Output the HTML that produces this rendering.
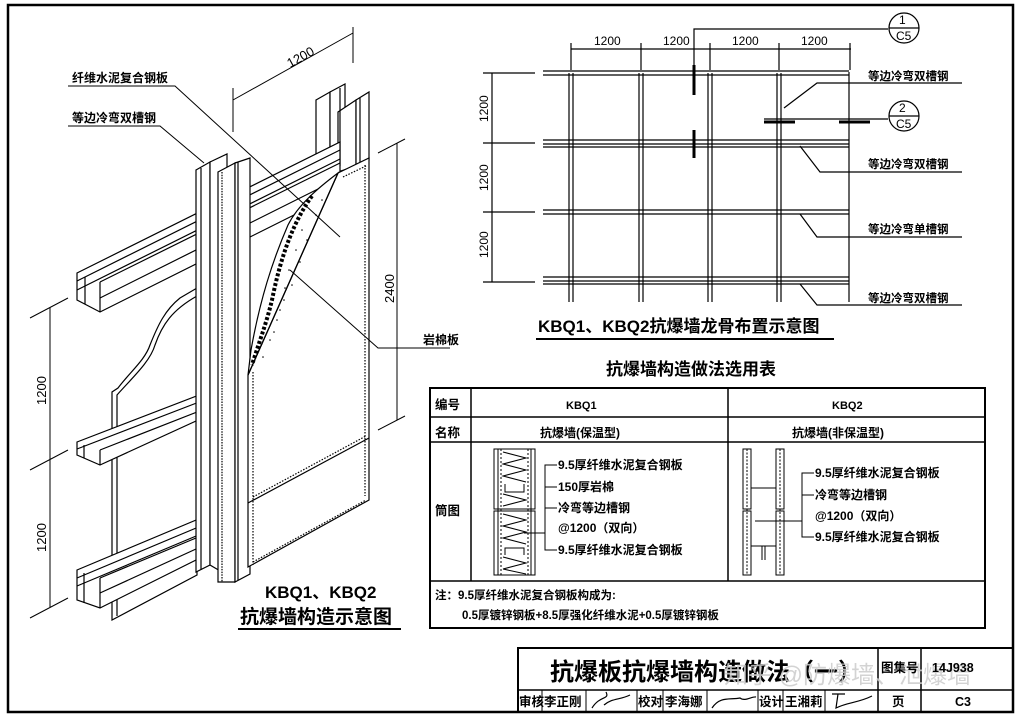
<!DOCTYPE html>
<html><head><meta charset="utf-8">
<style>
html,body{margin:0;padding:0;background:#fff;}
svg{display:block;}
text{font-family:"Liberation Sans","Noto Sans CJK SC",sans-serif;fill:#000;}
.b{font-weight:bold;}
</style></head>
<body>
<svg width="1020" height="719" viewBox="0 0 1020 719" xmlns="http://www.w3.org/2000/svg">
<rect width="1020" height="719" fill="#fff"/>
<rect x="8" y="5" width="1005" height="707" fill="none" stroke="#000" stroke-width="2.5"/>

<!-- ============ LEFT ISOMETRIC ============ -->
<g fill="#fff" stroke="#000" stroke-width="1.2">
  <!-- back upper post -->
  <polygon points="316,100 330,92 330,170 316,176"/>
  <polygon points="330,92 345,84 345,166 330,170"/>
  <polygon points="338,112 356,100 356,166 338,172"/>
  <polygon points="356,100 369,92 369,160 356,166"/>
  <line x1="340" y1="88" x2="340" y2="166"/>
  <line x1="360" y1="98" x2="360" y2="164"/>
  <!-- left back panel with wavy edge -->
  <path d="M112,620 L112,392 L118,388 C130,372 145,360 150,345 C158,325 165,310 180,298 L197,288 L197,575 Z"/>
  <path d="M117,616 L117,395 C132,378 150,362 155,345 C162,325 172,310 197,296" fill="none"/>
  <!-- upper double beam -->
  <polygon points="77,273 340,142 340,192 100,312 77,300"/>
  <line x1="77" y1="281" x2="340" y2="150"/>
  <line x1="77" y1="290" x2="340" y2="159"/>
  <line x1="100" y1="282" x2="340" y2="163"/>
  <line x1="100" y1="298" x2="340" y2="178"/>
  <line x1="100" y1="282" x2="100" y2="312"/>
  <line x1="85" y1="277" x2="85" y2="304"/>
  <!-- middle single channel -->
  <polygon points="77,442 220,387 220,410 100,465 77,455"/>
  <line x1="77" y1="449" x2="220" y2="394"/>
  <line x1="100" y1="450" x2="220" y2="403"/>
  <line x1="100" y1="450" x2="100" y2="465"/>
  <line x1="84" y1="445" x2="84" y2="458"/>
  <!-- lower double beam -->
  <polygon points="77,570 220,510 220,548 100,608 77,600"/>
  <line x1="77" y1="578" x2="220" y2="518"/>
  <line x1="77" y1="586" x2="220" y2="526"/>
  <line x1="100" y1="578" x2="220" y2="528"/>
  <line x1="100" y1="593" x2="220" y2="538"/>
  <line x1="100" y1="578" x2="100" y2="608"/>
  <line x1="84" y1="573" x2="84" y2="603"/>
  <!-- vertical post back -->
  <polygon points="196,170 210,162 210,565 196,572"/>
  <polygon points="210,162 227,154 227,575 210,565"/>
  <line x1="201" y1="168" x2="201" y2="570"/>
  <!-- front post -->
  <polygon points="218,172 235,163 235,582 218,582"/>
  <polygon points="235,163 250,158 250,574 235,582"/>
  <line x1="222" y1="172" x2="222" y2="582" stroke-dasharray="1.5,1.2"/>
  <line x1="238" y1="162" x2="238" y2="580"/>
  <!-- board -->
  <polygon points="338,173 369,158 369,500 248,567 248,375"/>
  <line x1="253" y1="372" x2="253" y2="565" stroke-dasharray="1.5,1.5"/>
  <line x1="248" y1="503" x2="369" y2="438"/>
  <line x1="253" y1="497" x2="366" y2="436" stroke-dasharray="1.5,1.5"/>
  <line x1="253" y1="562" x2="366" y2="500" stroke-dasharray="1.5,1.5"/>
  <line x1="365" y1="165" x2="365" y2="496" stroke-dasharray="1.5,1.5"/>
  <line x1="343" y1="177" x2="366" y2="166" stroke-dasharray="1.5,1.5"/>
  <!-- cut-away insulation -->
  <path d="M338,173 C318,188 298,205 288,225 C272,262 260,300 251,350 L248,375 Z" fill="#fff"/>
  <path d="M338,173 L248,375" fill="none"/>
  <path d="M312,196 C296,218 282,250 272,300 C266,325 258,345 252,365" fill="none" stroke-dasharray="3,2" stroke-width="4"/>
</g>
<g fill="#000">
  <circle cx="322" cy="200" r=".8"/><circle cx="316" cy="215" r=".8"/><circle cx="307" cy="240" r=".8"/>
  <circle cx="300" cy="262" r=".8"/><circle cx="292" cy="285" r=".8"/><circle cx="284" cy="300" r=".8"/>
  <circle cx="277" cy="320" r=".8"/><circle cx="270" cy="340" r=".8"/><circle cx="263" cy="357" r=".8"/>
  <circle cx="302" cy="230" r=".8"/><circle cx="289" cy="270" r=".8"/><circle cx="280" cy="310" r=".8"/>
  <circle cx="296" cy="250" r=".8"/><circle cx="285" cy="288" r=".8"/><circle cx="274" cy="332" r=".8"/>
</g>
<g stroke="#000" stroke-width="1" fill="none">
  <polyline points="68,86 175,86 340,237"/>
  <polyline points="68,126 160,126 204,163"/>
  <polyline points="290,270 378,348 450,348"/>
  <line x1="233" y1="100" x2="353" y2="33"/>
  <line x1="233" y1="88" x2="233" y2="132"/>
  <line x1="353" y1="27" x2="353" y2="63"/>
  <line x1="397" y1="143" x2="397" y2="420"/>
  <line x1="378" y1="153" x2="405" y2="139"/>
  <line x1="378" y1="430" x2="405" y2="416"/>
  <line x1="50" y1="307" x2="50" y2="607"/>
  <line x1="30" y1="318" x2="68" y2="298"/>
  <line x1="30" y1="470" x2="68" y2="450"/>
  <line x1="30" y1="618" x2="68" y2="598"/>
</g>
<text x="72" y="82" font-size="12" class="b">纤维水泥复合钢板</text>
<text x="72" y="122" font-size="12" class="b">等边冷弯双槽钢</text>
<text x="423" y="344" font-size="12" class="b">岩棉板</text>
<text transform="translate(290,68) rotate(-29)" font-size="13">1200</text>
<text transform="translate(394,303) rotate(-90)" font-size="13">2400</text>
<text transform="translate(46,405) rotate(-90)" font-size="13">1200</text>
<text transform="translate(46,552) rotate(-90)" font-size="13">1200</text>
<text x="265" y="598" font-size="17" class="b">KBQ1、KBQ2</text>
<text x="240" y="623" font-size="19" class="b">抗爆墙构造示意图</text>
<line x1="238" y1="629" x2="401" y2="629" stroke="#000" stroke-width="2"/>

<!-- ============ GRID ============ -->
<g stroke="#000" stroke-width="1.2" fill="none">
  <line x1="569" y1="73" x2="569" y2="302"/><line x1="573" y1="73" x2="573" y2="302"/>
  <line x1="639" y1="73" x2="639" y2="302"/><line x1="643" y1="73" x2="643" y2="302"/>
  <line x1="708" y1="73" x2="708" y2="302"/><line x1="712" y1="73" x2="712" y2="302"/>
  <line x1="777" y1="73" x2="777" y2="302"/><line x1="781" y1="73" x2="781" y2="302"/>
  <line x1="849" y1="72" x2="849" y2="302"/>
  <line x1="543" y1="71" x2="849" y2="71"/><line x1="543" y1="75" x2="849" y2="75"/>
  <line x1="543" y1="140" x2="849" y2="140"/><line x1="543" y1="144" x2="849" y2="144"/><line x1="543" y1="147" x2="849" y2="147"/>
  <line x1="543" y1="210" x2="849" y2="210"/><line x1="543" y1="214" x2="849" y2="214"/>
  <line x1="543" y1="277" x2="849" y2="277"/><line x1="543" y1="281" x2="849" y2="281"/><line x1="543" y1="284" x2="849" y2="284"/>
  <line x1="571" y1="49" x2="851" y2="49"/>
  <line x1="571" y1="43" x2="571" y2="70"/><line x1="641" y1="43" x2="641" y2="70"/>
  <line x1="710" y1="43" x2="710" y2="70"/><line x1="779" y1="43" x2="779" y2="70"/><line x1="850" y1="43" x2="850" y2="70"/>
  <line x1="492" y1="73" x2="492" y2="282"/>
  <line x1="483" y1="73" x2="535" y2="73"/><line x1="483" y1="143" x2="535" y2="143"/>
  <line x1="483" y1="212" x2="535" y2="212"/><line x1="483" y1="282" x2="535" y2="282"/>
  <polyline points="694,82 694,29 888,29"/>
  <line x1="694" y1="65" x2="694" y2="95" stroke-width="3"/>
  <line x1="694" y1="130" x2="694" y2="158" stroke-width="3"/>
  <line x1="764" y1="119" x2="888" y2="119"/>
  <line x1="764" y1="122" x2="795" y2="122" stroke-width="3"/>
  <line x1="839" y1="122" x2="870" y2="122" stroke-width="3"/>
  <circle cx="904" cy="28" r="15"/><line x1="889" y1="28" x2="919" y2="28"/>
  <circle cx="904" cy="116" r="15"/><line x1="889" y1="116" x2="919" y2="116"/>
  <polyline points="784,108 817,83 962,83"/>
  <polyline points="800,146 820,172 962,172"/>
  <polyline points="800,214 817,237 962,237"/>
  <polyline points="800,284 817,305 962,305"/>
</g>
<g font-size="12">
  <text x="594" y="45">1200</text><text x="663" y="45">1200</text><text x="732" y="45">1200</text><text x="801" y="45">1200</text>
  <text transform="translate(488,122) rotate(-90)">1200</text>
  <text transform="translate(488,191) rotate(-90)">1200</text>
  <text transform="translate(488,258) rotate(-90)">1200</text>
  <text x="899" y="24">1</text><text x="896" y="40">C5</text>
  <text x="899" y="112">2</text><text x="896" y="128">C5</text>
</g>
<g font-size="11.5" class="b">
  <text x="868" y="80">等边冷弯双槽钢</text>
  <text x="868" y="168">等边冷弯双槽钢</text>
  <text x="868" y="233">等边冷弯单槽钢</text>
  <text x="868" y="302">等边冷弯双槽钢</text>
</g>
<text x="538" y="332" font-size="17" class="b">KBQ1、KBQ2抗爆墙龙骨布置示意图</text>
<line x1="536" y1="339" x2="834" y2="339" stroke="#000" stroke-width="2"/>

<!-- ============ TABLE ============ -->
<text x="606" y="375" font-size="17" class="b">抗爆墙构造做法选用表</text>
<g stroke="#000" fill="none">
  <rect x="430" y="388" width="555" height="240" stroke-width="2"/>
  <line x1="430" y1="417" x2="985" y2="417" stroke-width="1.5"/>
  <line x1="430" y1="442" x2="985" y2="442" stroke-width="1.5"/>
  <line x1="430" y1="581" x2="985" y2="581" stroke-width="1.5"/>
  <line x1="471" y1="388" x2="471" y2="581" stroke-width="1.5"/>
  <line x1="728" y1="388" x2="728" y2="581" stroke-width="1.5"/>
</g>
<g font-size="12.5" class="b">
  <text x="435" y="409">编号</text><text x="435" y="437">名称</text><text x="435" y="515">筒图</text>
  <text x="566" y="409" font-size="11">KBQ1</text><text x="832" y="409" font-size="11">KBQ2</text>
  <text x="540" y="437" font-size="12">抗爆墙(保温型)</text>
  <text x="792" y="437" font-size="12">抗爆墙(非保温型)</text>
</g>
<g stroke="#000" stroke-width="1" fill="none">
  <rect x="494" y="449" width="41" height="60"/>
  <rect x="494" y="511" width="41" height="64"/>
  <line x1="498" y1="449" x2="498" y2="575"/><line x1="531" y1="449" x2="531" y2="575"/>
  <line x1="501" y1="449" x2="501" y2="575" stroke-dasharray="2,2"/><line x1="528" y1="449" x2="528" y2="575" stroke-dasharray="2,2"/>
  <polyline points="503,452 526,458 503,464 526,470 503,476 526,482"/>
  <polyline points="503,494 526,500 503,506"/>
  <polyline points="503,514 526,520 503,526 526,532 503,538 526,544"/>
  <polyline points="503,557 526,563 503,569 526,574"/>
  <polyline points="505,484 505,492 524,492 524,484"/>
  <polyline points="505,555 505,548 524,548 524,555"/>
  <polyline points="524,533 545,533"/>
  <polyline points="557,465 545,465 545,550 557,550"/>
  <line x1="545" y1="487" x2="557" y2="487"/><line x1="545" y1="508" x2="557" y2="508"/>
  <rect x="743" y="449" width="8" height="60"/><rect x="776" y="449" width="8" height="60"/>
  <rect x="743" y="511" width="8" height="64"/><rect x="776" y="511" width="8" height="64"/>
  <line x1="747" y1="449" x2="747" y2="575" stroke-dasharray="2,1.5"/>
  <line x1="780" y1="449" x2="780" y2="575" stroke-dasharray="2,1.5"/>
  <polyline points="751,478 751,488 776,488 776,478"/>
  <polyline points="751,555 751,546 776,546 776,555"/>
  <line x1="762" y1="546" x2="762" y2="560"/><line x1="765" y1="546" x2="765" y2="560"/>
  <line x1="755" y1="521" x2="802" y2="521"/>
  <polyline points="814,473 802,473 802,537 814,537"/>
  <line x1="802" y1="495" x2="814" y2="495"/>
</g>
<g font-size="12" class="b">
  <text x="558" y="469">9.5厚纤维水泥复合钢板</text>
  <text x="558" y="491">150厚岩棉</text>
  <text x="558" y="512">冷弯等边槽钢</text>
  <text x="558" y="532">@1200（双向）</text>
  <text x="558" y="554">9.5厚纤维水泥复合钢板</text>
  <text x="815" y="477">9.5厚纤维水泥复合钢板</text>
  <text x="815" y="499">冷弯等边槽钢</text>
  <text x="815" y="520">@1200（双向）</text>
  <text x="815" y="541">9.5厚纤维水泥复合钢板</text>
  <text x="435" y="599" font-size="11.5">注：9.5厚纤维水泥复合钢板构成为:</text>
  <text x="462" y="619" font-size="11.5">0.5厚镀锌钢板+8.5厚强化纤维水泥+0.5厚镀锌钢板</text>
</g>

<!-- ============ TITLE BLOCK ============ -->
<g stroke="#000" fill="none">
  <rect x="518" y="648" width="495" height="64" stroke-width="2"/>
  <line x1="518" y1="690" x2="1013" y2="690" stroke-width="1.5"/>
  <line x1="878" y1="648" x2="878" y2="712" stroke-width="1.5"/>
  <line x1="921" y1="648" x2="921" y2="712" stroke-width="1.5"/>
  <line x1="542" y1="690" x2="542" y2="712"/><line x1="586" y1="690" x2="586" y2="712"/>
  <line x1="637" y1="690" x2="637" y2="712"/><line x1="663" y1="690" x2="663" y2="712"/>
  <line x1="707" y1="690" x2="707" y2="712"/><line x1="758" y1="690" x2="758" y2="712"/>
  <line x1="783" y1="690" x2="783" y2="712"/><line x1="825" y1="690" x2="825" y2="712"/>
  <path d="M592,708 C600,695 610,700 606,692 M604,705 C612,698 620,700 630,695" stroke-width="1.2"/>
  <path d="M712,708 C720,696 730,700 740,698 C745,702 752,696 756,697" stroke-width="1.2"/>
  <path d="M832,694 L845,694 M838,694 L836,708 C848,702 858,703 872,696" stroke-width="1.2"/>
</g>
<text x="550" y="680" font-size="24" class="b">抗爆板抗爆墙构造做法（一）</text>
<text x="724" y="683" font-size="24" style="fill:#ccc" opacity=".85">知乎 @防爆墙、泄爆墙</text>
<g font-size="12.5" class="b">
  <text x="881" y="672">图集号</text>
  <text x="932" y="672">14J938</text>
  <text x="519" y="706">审核</text><text x="544" y="706">李正刚</text>
  <text x="638" y="706">校对</text><text x="665" y="706">李海娜</text>
  <text x="759" y="706">设计</text><text x="785" y="706">王湘莉</text>
  <text x="892" y="706">页</text><text x="955" y="706">C3</text>
</g>
</svg>
</body></html>
